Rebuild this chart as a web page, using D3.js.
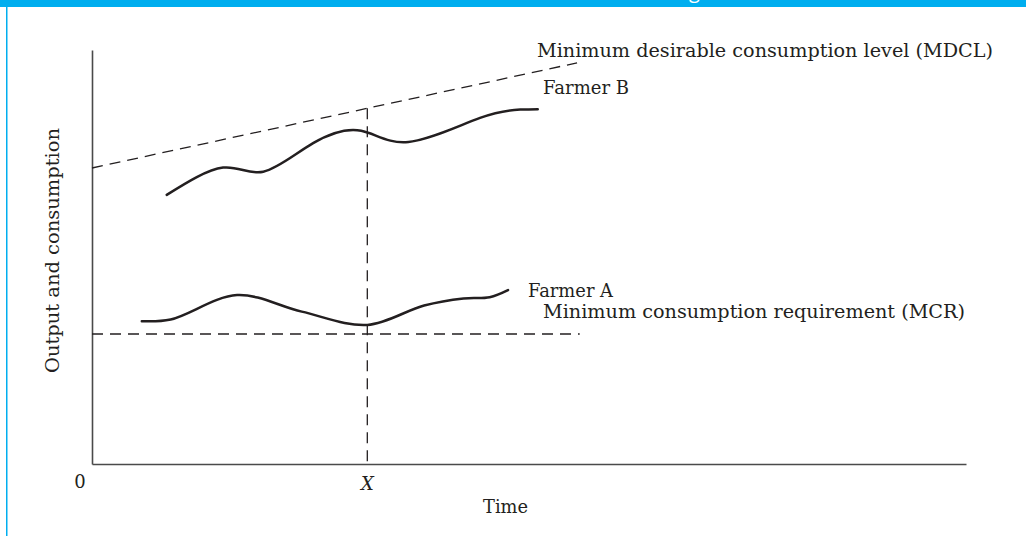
<!DOCTYPE html>
<html>
<head>
<meta charset="utf-8">
<script src="https://cdn.jsdelivr.net/npm/d3@7"></script>
<style>
  html, body { margin: 0; padding: 0; background: #fff; }
  svg { display: block; }
  text { font-family: "DejaVu Serif", "Liberation Serif", serif; fill: #231f20; }
</style>
</head>
<body>
<svg id="chart" width="1026" height="536"></svg>
<script>
// ---- data (conceptual units: time 0-100, output 0-100) ----
const farmerBTime  = [8.55, 15.0, 19.6, 25.3, 30.8, 36.2, 44.4, 49.0, 51.0];
const farmerBValue = [65.0, 71.6, 70.6, 77.5, 80.5, 77.8, 83.6, 85.6, 85.7];
const farmerATime  = [5.7, 9.0, 16.6, 24.0, 31.5, 38.0, 42.5, 45.5, 47.6];
const farmerAValue = [34.5, 34.9, 40.8, 36.8, 33.6, 38.3, 40.0, 40.3, 42.0];
const mdclTime  = [0, 55.5];
const mdclValue = [71.5, 96.9];
const mcrTime   = [0, 55.8];
const mcrValue  = [31.4, 31.4];
const xMarkTime = 31.5;
const axisLabels = { x: "Time", y: "Output and consumption", origin: "0", mark: "X" };
const seriesLabels = ["Minimum desirable consumption level (MDCL)", "Farmer B", "Farmer A", "Minimum consumption requirement (MCR)"];

// ---- layout ----
const svg = d3.select("#chart");
const x = d3.scaleLinear().domain([0, 100]).range([92, 966]);
const y = d3.scaleLinear().domain([0, 100]).range([464, 50]);
const ink = "#231f20";

// frame: blue top bar and left border
svg.append("rect").attr("x", 0).attr("y", 0).attr("width", 1026).attr("height", 7).attr("fill", "#00aeef");
svg.append("line").attr("x1", 6.75).attr("x2", 6.75).attr("y1", 0).attr("y2", 536)
   .attr("stroke", "#00aeef").attr("stroke-width", 1.5);
svg.append("text").attr("x", 689).attr("y", -2).attr("font-size", 20).style("fill", "#fff")
   .style("font-family", "'Open Sans', sans-serif").text("g");

// axes (no ticks)
const xAxis = d3.axisBottom(x).tickValues([]).tickSizeOuter(0);
const yAxis = d3.axisLeft(y).tickValues([]).tickSizeOuter(0);
const gx = svg.append("g").attr("transform", `translate(0,${y(0)})`).call(xAxis);
const gy = svg.append("g").attr("transform", `translate(${x(0)},0)`).call(yAxis);
[gx, gy].forEach(g => g.select(".domain").attr("stroke", "#4a4a4a").attr("stroke-width", 1.6));

// dashed reference lines
const line = d3.line().x(d => x(d[0])).y(d => y(d[1]));
const dash = "11,7";
svg.append("path").datum(d3.zip(mdclTime, mdclValue)).attr("d", line)
   .attr("fill", "none").attr("stroke", ink).attr("stroke-width", 1.3).attr("stroke-dasharray", dash);
svg.append("path").datum(d3.zip(mcrTime, mcrValue)).attr("d", line)
   .attr("fill", "none").attr("stroke", ink).attr("stroke-width", 1.3).attr("stroke-dasharray", dash);
const mdclAtX = mdclValue[0] + (mdclValue[1] - mdclValue[0]) * (xMarkTime - mdclTime[0]) / (mdclTime[1] - mdclTime[0]);
svg.append("path").datum([[xMarkTime, mdclAtX], [xMarkTime, 0]]).attr("d", line)
   .attr("fill", "none").attr("stroke", ink).attr("stroke-width", 1.3).attr("stroke-dasharray", dash);

// farmer curves
const curveB = d3.line().x(d => x(d[0])).y(d => y(d[1])).curve(d3.curveNatural);
const curveA = d3.line().x(d => x(d[0])).y(d => y(d[1])).curve(d3.curveCatmullRom.alpha(0.5));
svg.append("path").datum(d3.zip(farmerBTime, farmerBValue)).attr("d", curveB)
   .attr("fill", "none").attr("stroke", ink).attr("stroke-width", 2.5).attr("stroke-linecap", "round");
svg.append("path").datum(d3.zip(farmerATime, farmerAValue)).attr("d", curveA)
   .attr("fill", "none").attr("stroke", ink).attr("stroke-width", 2.5).attr("stroke-linecap", "round");

// labels
const fs = 18;
function label(txt, px, py, width, opts = {}) {
  const t = svg.append("text").attr("x", px).attr("y", py).attr("font-size", opts.size || fs).text(txt);
  if (width) t.attr("textLength", width).attr("lengthAdjust", "spacingAndGlyphs");
  if (opts.anchor) t.attr("text-anchor", opts.anchor);
  if (opts.italic) t.style("font-style", "italic");
  return t;
}
label(seriesLabels[0], 537, 57, 456);
label(seriesLabels[1], 543, 94, 86);
label(seriesLabels[2], 528, 297, 85);
label(seriesLabels[3], 543, 318, 422);
label(axisLabels.origin, 80, 488, null, { anchor: "middle" });
label(axisLabels.mark, x(xMarkTime), 490, null, { anchor: "middle", italic: true });
label(axisLabels.x, 483, 513, 45);
svg.append("text").attr("transform", "translate(59,373) rotate(-90)")
   .attr("font-size", fs).attr("textLength", 245).attr("lengthAdjust", "spacingAndGlyphs")
   .text(axisLabels.y);
</script>
</body>
</html>
